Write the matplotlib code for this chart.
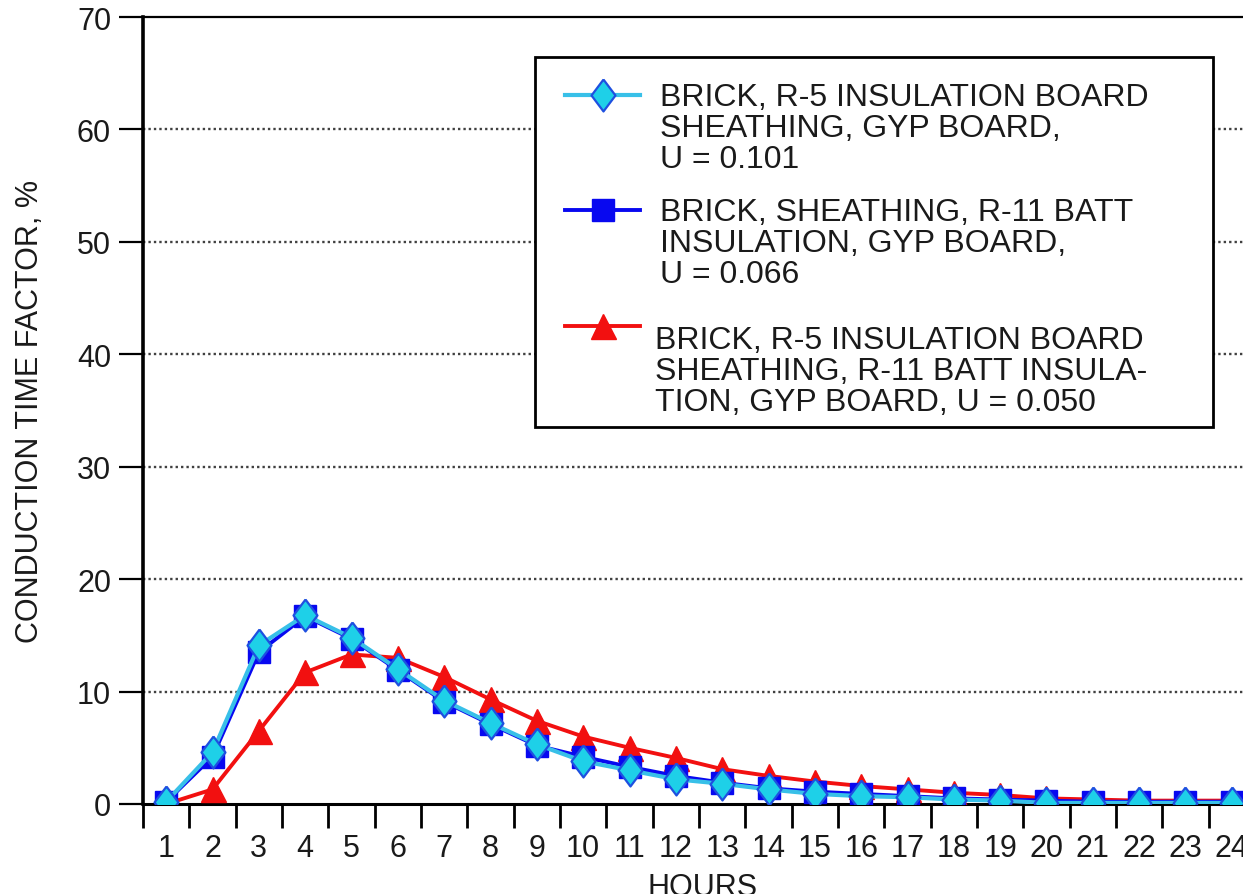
import matplotlib
matplotlib.use("Agg")
import matplotlib.pyplot as plt
from matplotlib.lines import Line2D
from matplotlib.patches import Rectangle
import numpy as np

plt.rcParams['font.family'] = ['Liberation Sans', 'DejaVu Sans']

hours = list(range(1, 25))
u101 = [0.2, 4.6, 14.1, 16.8, 14.8, 12.0, 9.2, 7.2, 5.3, 3.8, 3.0, 2.2, 1.8, 1.3,
        0.9, 0.7, 0.6, 0.4, 0.3, 0.1, 0.1, 0.1, 0.1, 0.1]
u066 = [0.2, 4.2, 13.5, 16.7, 14.7, 11.9, 9.1, 7.1, 5.2, 4.2, 3.3, 2.5, 1.9, 1.4,
        1.1, 0.9, 0.7, 0.5, 0.4, 0.3, 0.2, 0.2, 0.2, 0.2]
u050 = [0.0, 1.3, 6.5, 11.7, 13.3, 13.0, 11.3, 9.3, 7.4, 6.0, 5.0, 4.1, 3.1, 2.5,
        2.0, 1.6, 1.3, 1.0, 0.8, 0.5, 0.4, 0.3, 0.3, 0.3]

labels = [
    "BRICK, R-5 INSULATION BOARD\nSHEATHING, GYP BOARD,\nU = 0.101",
    "BRICK, SHEATHING, R-11 BATT\nINSULATION, GYP BOARD,\nU = 0.066",
    "BRICK, R-5 INSULATION BOARD\nSHEATHING, R-11 BATT INSULA-\nTION, GYP BOARD, U = 0.050",
]
yticks = [0, 10, 20, 30, 40, 50, 60, 70]

cyan_line = '#38C0E8'
cyan_face = '#1ED0E8'
blue = '#0808F0'
red = '#F21010'
diamond = [(0, 1), (0.75, 0), (0, -1), (-0.75, 0), (0, 1)]

W, H = 1243, 895
fig = plt.figure(figsize=(W / 100, H / 100), dpi=100)
ax_l, ax_r, ax_t, ax_b = 143, 1255, 18, 805
ax = fig.add_axes([ax_l / W, (H - ax_b) / H, (ax_r - ax_l) / W, (ax_b - ax_t) / H])

styles = [
    dict(color=red, lw=2.8, marker='^', ms=18, mfc=red, mec=red, zorder=3),
    dict(color=blue, lw=2.8, marker='s', ms=16.5, mfc=blue, mec=blue, zorder=4),
    dict(color=cyan_line, lw=3.0, marker=diamond, ms=23, mfc=cyan_face, mec='#1E50E0', mew=1.6, zorder=5),
]
ax.plot(hours, u050, **styles[0])
ax.plot(hours, u066, **styles[1])
ax.plot(hours, u101, **styles[2])

ax.set_xlim(0.5, 24.5)
ax.set_ylim(0, 70)
ax.set_yticks(yticks)
ax.set_xticks(hours)
ax.set_xticks(np.arange(0.5, 24.6, 1.0), minor=True)
ax.tick_params(axis='x', which='major', length=0, pad=21, labelsize=22, labelcolor='#1a1a1a')
ax.tick_params(axis='x', which='minor', length=17, width=2, direction='out')
ax.tick_params(axis='y', which='major', length=17, width=1.6, direction='out', pad=6, labelsize=22,
               labelcolor='#1a1a1a')

for y in yticks[1:-1]:
    ax.axhline(y, color='#404040', lw=1.7, ls=(0, (1, 1.3)), zorder=1)

ax.spines['right'].set_visible(False)
ax.spines['left'].set_linewidth(2.6)
ax.spines['bottom'].set_linewidth(2.2)
ax.spines['top'].set_linewidth(1.6)

ax.set_ylabel("CONDUCTION TIME FACTOR, %", fontsize=22, color='#1a1a1a')
ax.yaxis.set_label_coords(-(143 - 30) / (ax_r - ax_l), 0.5, transform=ax.transAxes)
ax.yaxis.label.set_va('center')
ax.set_xlabel("HOURS", fontsize=22, color='#1a1a1a')
ax.xaxis.set_label_coords((703 - ax_l) / (ax_r - ax_l), -(873 - ax_b) / (ax_b - ax_t), transform=ax.transAxes)
ax.xaxis.label.set_va('top')


def fx(px):
    return (px - ax_l) / (ax_r - ax_l)


def fy(py):
    return (ax_b - py) / (ax_b - ax_t)


box = Rectangle((fx(535), fy(428)), fx(1213) - fx(535), fy(58) - fy(428),
                transform=ax.transAxes, fill=True, facecolor='white', edgecolor='black',
                lw=2.0, zorder=6)
ax.add_patch(box)

handle_y = [96, 211, 327]
text_x = [660, 660, 655]
text_y = [101, 216, 344]
order = [2, 1, 0]
for k in range(3):
    st = dict(styles[order[k]])
    hy = fy(handle_y[k])
    ax.add_line(Line2D([fx(565), fx(640)], [hy, hy], transform=ax.transAxes,
                       color=st['color'], lw=st['lw'], zorder=7))
    ax.add_line(Line2D([fx(603)], [hy], transform=ax.transAxes, ls='none', marker=st['marker'], ms=st['ms'],
                       mfc=st['mfc'], mec=st['mec'], mew=st.get('mew', 1.0), zorder=8))
    ax.text(fx(text_x[k]), fy(text_y[k] - 18), labels[k], transform=ax.transAxes, fontsize=23,
            va='top', ha='left', linespacing=1.04, color='#1a1a1a', zorder=8)

fig.savefig("out.png", dpi=100)
